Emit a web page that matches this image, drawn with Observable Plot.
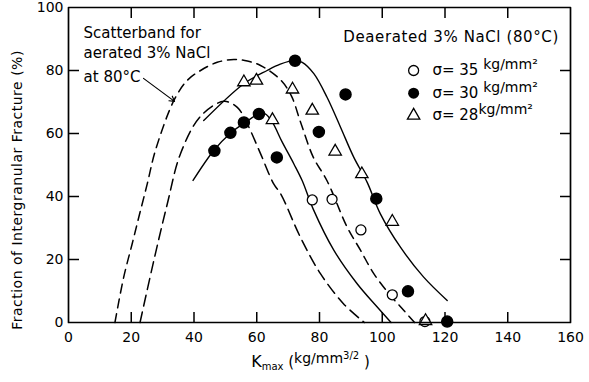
<!DOCTYPE html>
<html><head><meta charset="utf-8">
<script src="https://cdn.jsdelivr.net/npm/d3@7"></script>
<script src="https://cdn.jsdelivr.net/npm/@observablehq/plot@0.6"></script>
<style>
body{margin:0;background:#fff}
</style>
</head><body><div id="chart"></div>
<script>
// ---- data ----
const k35 = [77.7, 84.0, 93.2, 103.2, 113.6];
const f35 = [38.9, 39.1, 29.4, 8.8, 0.3];
const k30 = [46.5, 51.6, 55.9, 60.7, 66.4, 72.2, 79.8, 88.3, 98.1, 108.2, 120.7];
const f30 = [54.5, 60.2, 63.5, 66.2, 52.4, 83.1, 60.5, 72.4, 39.3, 9.9, 0.3];
const k28 = [55.9, 59.9, 65.0, 71.4, 77.7, 85.0, 93.5, 103.2, 113.8];
const f28 = [76.3, 76.8, 64.3, 74.0, 67.3, 54.3, 47.1, 32.0, 0.5];

// scatterband (aerated 3% NaCl) dashed boundaries
const bandOuterK = [14.8, 17.6, 20.3, 22.4, 25.1, 27.7, 33.6, 37.8, 42.1, 47.4, 52.7, 57, 61.2, 67.5, 71, 74, 78, 82.4, 88.8, 93.1, 97.3, 102.6, 106.9, 110.3];
const bandOuterF = [0, 14.4, 25, 33.4, 44, 54.6, 70.5, 76.8, 80, 82.6, 83.5, 83, 81.6, 77.1, 72, 63.5, 52.5, 45, 30.3, 22.9, 15.5, 8.6, 3.8, 0];
const bandInnerK = [22.8, 27.2, 31.5, 35.7, 42.1, 49.5, 53.8, 57, 61.2, 65.4, 67.6, 73.9, 80.3, 87.7, 94.3];
const bandInnerF = [0, 19.7, 37.7, 53.6, 65.5, 70.2, 68.3, 63, 53.6, 44, 40.9, 27.1, 15.5, 5.9, 0];

// solid trend curves (deaerated)
const upperK = [43.1, 55.9, 63.3, 67.5, 72.0, 74.5, 78.2, 82.4, 86.7, 90.9, 95.2, 99.4, 105.8, 113.2, 120.7];
const upperF = [64.1, 75.8, 80, 82, 83.2, 82.6, 79, 71.5, 62, 52.5, 44.5, 34.5, 23.9, 14.4, 7];
const lowerK = [39.7, 46.3, 51.6, 56.2, 60.7, 62.7, 65, 68, 71.8, 74.5, 78, 84.6, 92, 98.4, 102.8];
const lowerF = [45.1, 54.6, 60.1, 63.4, 66.2, 66.2, 63.5, 57.5, 50.4, 45, 36, 22.9, 12.3, 4.9, 0];

// axes
const xTicks = [0, 20, 40, 60, 80, 100, 120, 140, 160];
const yTicks = [0, 20, 40, 60, 80, 100];
const xInner = [20, 40, 60, 80, 100, 120, 140];
const yInner = [20, 40, 60, 80];
const xDomain = [0, 160];
const yDomain = [0, 100];
const xLabel = "Kmax (kg/mm3/2 )";
const yLabel = "Fraction of Intergranular Fracture (%)";

// annotations
const noteLines = ["Scatterband for", "aerated 3% NaCl", "at 80°C"];
const noteK = [4.8, 4.8, 4.8];
const noteF = [91.7, 85.4, 77.8];
const arrowFrom = [23.9, 77.5];
const arrowTo = [33.8, 70.2];
const legendTitle = "Deaerated 3% NaCl (80°C)";
const legendTitlePos = [87.6, 90.5];
const legendLabels = ["σ= 35 kg/mm²", "σ= 30 kg/mm²", "σ= 28kg/mm²"];
const legendSymK = 110;
const legendTextK = 116;
const legendF = [80, 72.8, 65.7];

// ---- layout ----
const W = 589, H = 382, ML = 68, MR = 19, MT = 7, MB = 60;
const TICK_PX = 10.5;
const tickX = TICK_PX * (xDomain[1] - xDomain[0]) / (W - ML - MR); // tick length in x units
const tickY = TICK_PX * (yDomain[1] - yDomain[0]) / (H - MT - MB); // tick length in y units

// ---- build ----
const pts = (K, F) => K.map((k, i) => ({k, f: F[i]}));
const legendRows = legendLabels.map((t, i) => ({t, f: legendF[i]}));
const notes = noteLines.map((t, i) => ({t, k: noteK[i], f: noteF[i]}));
const arrows = [{x1: arrowFrom[0], y1: arrowFrom[1], x2: arrowTo[0], y2: arrowTo[1]}];
const frameBox = [
  {k: xDomain[0], f: yDomain[0]}, {k: xDomain[1], f: yDomain[0]},
  {k: xDomain[1], f: yDomain[1]}, {k: xDomain[0], f: yDomain[1]}, {k: xDomain[0], f: yDomain[0]}
];
const tickLinks = [
  ...xInner.map(v => ({x1: v, y1: yDomain[0], x2: v, y2: yDomain[0] + tickY})),
  ...xInner.map(v => ({x1: v, y1: yDomain[1], x2: v, y2: yDomain[1] - tickY})),
  ...yInner.map(v => ({x1: xDomain[0], y1: v, x2: xDomain[0] + tickX, y2: v})),
  ...yInner.map(v => ({x1: xDomain[1], y1: v, x2: xDomain[1] - tickX, y2: v}))
];

const plot = Plot.plot({
  width: W,
  height: H,
  marginLeft: ML,
  marginRight: MR,
  marginTop: MT,
  marginBottom: MB,
  style: {fontFamily: "DejaVu Sans, sans-serif", fontSize: "14px", color: "black", background: "white"},
  x: {domain: xDomain},
  y: {domain: yDomain},
  marks: [
    Plot.line(pts(bandOuterK, bandOuterF), {x: "k", y: "f", curve: "catmull-rom", stroke: "black", strokeWidth: 1.5, strokeDasharray: "9,6"}),
    Plot.line(pts(bandInnerK, bandInnerF), {x: "k", y: "f", curve: "catmull-rom", stroke: "black", strokeWidth: 1.5, strokeDasharray: "11,6"}),
    Plot.line(pts(upperK, upperF), {x: "k", y: "f", curve: "catmull-rom", stroke: "black", strokeWidth: 1.4}),
    Plot.line(pts(lowerK, lowerF), {x: "k", y: "f", curve: "catmull-rom", stroke: "black", strokeWidth: 1.4}),

    Plot.dot(pts(k35, f35), {x: "k", y: "f", r: 5, fill: "white", stroke: "black", strokeWidth: 1.3}),
    Plot.dot(pts(k28, f28), {x: "k", y: "f", r: 4.6, symbol: "triangle", fill: "white", stroke: "black", strokeWidth: 1.3}),
    Plot.dot(pts(k30, f30), {x: "k", y: "f", r: 5.5, fill: "black", stroke: "black"}),

    Plot.arrow(arrows, {x1: "x1", y1: "y1", x2: "x2", y2: "y2", stroke: "black", strokeWidth: 1.2, headLength: 7}),
    Plot.text(notes, {x: "k", y: "f", text: "t", textAnchor: "start", fontSize: 15}),
    Plot.text([legendTitle], {x: () => legendTitlePos[0], y: () => legendTitlePos[1], text: d => d, textAnchor: "start", fontSize: 15}),

    Plot.dot(legendRows.slice(0, 1), {x: () => legendSymK, y: "f", r: 5, fill: "white", stroke: "black", strokeWidth: 1.3}),
    Plot.dot(legendRows.slice(1, 2), {x: () => legendSymK, y: "f", r: 5.5, fill: "black"}),
    Plot.dot(legendRows.slice(2, 3), {x: () => legendSymK, y: "f", r: 4.6, symbol: "triangle", fill: "white", stroke: "black", strokeWidth: 1.3}),
    Plot.text(legendRows, {x: () => legendTextK, y: "f", text: "t", textAnchor: "start", fontSize: 15}),

    Plot.text([yLabel], {frameAnchor: "left", textAnchor: "middle", rotate: -90, dx: -51, dy: 25, text: d => d, fontSize: 14}),
    Plot.text([xLabel], {frameAnchor: "bottom", textAnchor: "middle", dx: -9, dy: 44, text: d => d, fontSize: 15}),

    // tick labels
    Plot.axisX({anchor: "bottom", ticks: xTicks, tickSize: 0, tickPadding: 10, label: null, fontSize: 14}),
    Plot.axisY({anchor: "left", ticks: yTicks, tickSize: 0, tickPadding: 5, label: null, fontSize: 14}),
    // inward ticks and the box, drawn as paths
    Plot.link(tickLinks, {x1: "x1", y1: "y1", x2: "x2", y2: "y2", stroke: "black", strokeWidth: 1.5}),
    Plot.line(frameBox, {x: "k", y: "f", stroke: "black", strokeWidth: 1.7, curve: "linear-closed"})
  ]
});

// rich text (sub/superscripts) as tspans
const richMap = {
  "Kmax (kg/mm3/2 )": [["K", 16, 0], ["max", 10, 3], [" (", 15, 0], ["kg/mm", 14, -4], ["3/2", 10, -8], [" )", 15, 0]],
  "σ= 35 kg/mm²": [["σ= 35 ", 15, 0], ["kg/mm²", 14, -6]],
  "σ= 30 kg/mm²": [["σ= 30 ", 15, 0], ["kg/mm²", 14, -6]],
  "σ= 28kg/mm²": [["σ= 28", 15, 0], ["kg/mm²", 14, -6]]
};
const spacing = new Map([[legendTitle, "0.6px"], [yLabel, "0.5px"]]);
plot.querySelectorAll("text").forEach(node => {
  const content = node.textContent;
  if (spacing.has(content)) node.style.letterSpacing = spacing.get(content);
  const segs = richMap[content];
  if (!segs) return;
  const el = d3.select(node);
  el.text(null);
  let cur = 0;
  for (const [t, size, shift] of segs) {
    el.append("tspan").attr("font-size", size).attr("dy", shift - cur).text(t);
    cur = shift;
  }
});

document.getElementById("chart").appendChild(plot);
</script></body></html>
